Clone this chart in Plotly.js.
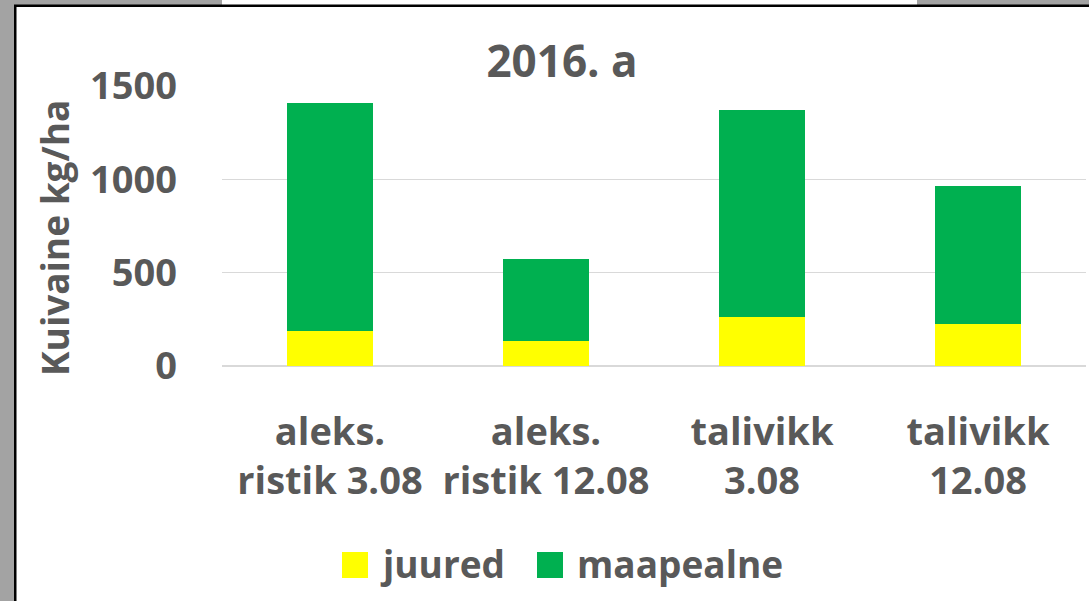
<!DOCTYPE html>
<html>
<head>
<meta charset="utf-8">
<script src="https://cdn.plot.ly/plotly-3.0.1.min.js"></script>
<style>html,body{margin:0;padding:0;background:#fff;}#chart{width:1089px;height:601px;}</style>
</head>
<body>
<div id="chart"></div>
<script>
const categories = ["aleks.<br>ristik 3.08", "aleks.<br>ristik 12.08", "talivikk<br>3.08", "talivikk<br>12.08"];
const juured = [190, 136, 264, 227];
const maapealne = [1221, 438, 1105, 736];
const seriesNames = ["juured", "maapealne"];
const seriesColors = ["#ffff00", "#00b050"];
const yTickVals = [0, 500, 1000, 1500];
const chartTitle = "2016. a";
const yTitle = "Kuivaine kg/ha";

const W = 1089, H = 601;
const M = {l: 222, r: 3, t: 86, b: 235};
const PW = W - M.l - M.r, PH = H - M.t - M.b;
const px = v => (v - M.l) / PW;
const py = v => (H - M.b - v) / PH;

const FONT = "'Open Sans', Carlito, Lato, sans-serif";
const GREY = "#595959";
const FS = 37;
const TFS = 38;

const traces = [juured, maapealne].map((vals, i) => ({
  type: "bar", x: categories, y: vals, name: seriesNames[i],
  marker: {color: seriesColors[i], line: {width: 0}}, showlegend: false
}));

const shapes = [
  {type: "rect", xref: "paper", yref: "paper", x0: px(0), x1: px(14), y0: py(H), y1: py(0), fillcolor: "#a3a3a3", line: {width: 0}},
  {type: "rect", xref: "paper", yref: "paper", x0: px(0), x1: px(222), y0: py(5), y1: py(0), fillcolor: "#a3a3a3", line: {width: 0}},
  {type: "rect", xref: "paper", yref: "paper", x0: px(917), x1: px(W), y0: py(5), y1: py(0), fillcolor: "#a3a3a3", line: {width: 0}},
  {type: "rect", xref: "paper", yref: "paper", x0: px(14), x1: px(16.5), y0: py(H), y1: py(5), fillcolor: "#000", line: {width: 0}},
  {type: "rect", xref: "paper", yref: "paper", x0: px(14), x1: px(W), y0: py(7), y1: py(4.5), fillcolor: "#000", line: {width: 0}}
];

const legSq = [342, 537];
const legTx = [378, 575];
const annotations = [];
seriesNames.forEach((n, i) => {
  shapes.push({type: "rect", xref: "paper", yref: "paper", x0: px(legSq[i]), x1: px(legSq[i] + 26), y0: py(578), y1: py(552), fillcolor: seriesColors[i], line: {width: 0}});
  annotations.push({xref: "paper", yref: "paper", x: px(legTx[i]), y: py(563), xanchor: "left", yanchor: "middle", showarrow: false, text: "<b>" + n + "</b>", font: {family: FONT, size: FS, color: GREY}});
});
annotations.push({xref: "paper", yref: "paper", x: px(54), y: py(238), xanchor: "center", yanchor: "middle", textangle: -90, showarrow: false, text: "<b>" + yTitle + "</b>", font: {family: FONT, size: FS, color: GREY}});

const layout = {
  width: W, height: H,
  margin: M,
  paper_bgcolor: "#fff", plot_bgcolor: "#fff",
  barmode: "stack", bargap: 0.6,
  showlegend: false,
  title: {text: "<b>" + chartTitle + "</b>", x: 562 / W, xref: "container", xanchor: "center", y: 1 - 62 / H, yref: "container", yanchor: "middle", font: {family: FONT, size: 44, color: GREY}},
  xaxis: {type: "category", showgrid: false, zeroline: false, showline: false, ticks: "", tickfont: {family: FONT, size: TFS, color: GREY}, ticklabelstandoff: 40},
  yaxis: {range: [0, 1500], tickvals: yTickVals, ticktext: yTickVals.map(v => "<b>" + v + "</b>"), showgrid: true, gridcolor: "#d9d9d9", gridwidth: 1.5, zeroline: true, zerolinecolor: "#d9d9d9", zerolinewidth: 1.5, showline: false, ticks: "", tickfont: {family: FONT, size: TFS, color: GREY}, ticklabelstandoff: 44},
  shapes: shapes,
  annotations: annotations
};
layout.xaxis.ticktext = categories.map(c => "<b>" + c.replace("<br>", "</b><br><b>") + "</b>");
layout.xaxis.tickvals = categories;

Plotly.newPlot("chart", traces, layout, {displayModeBar: false, staticPlot: true});
</script>
</body>
</html>
